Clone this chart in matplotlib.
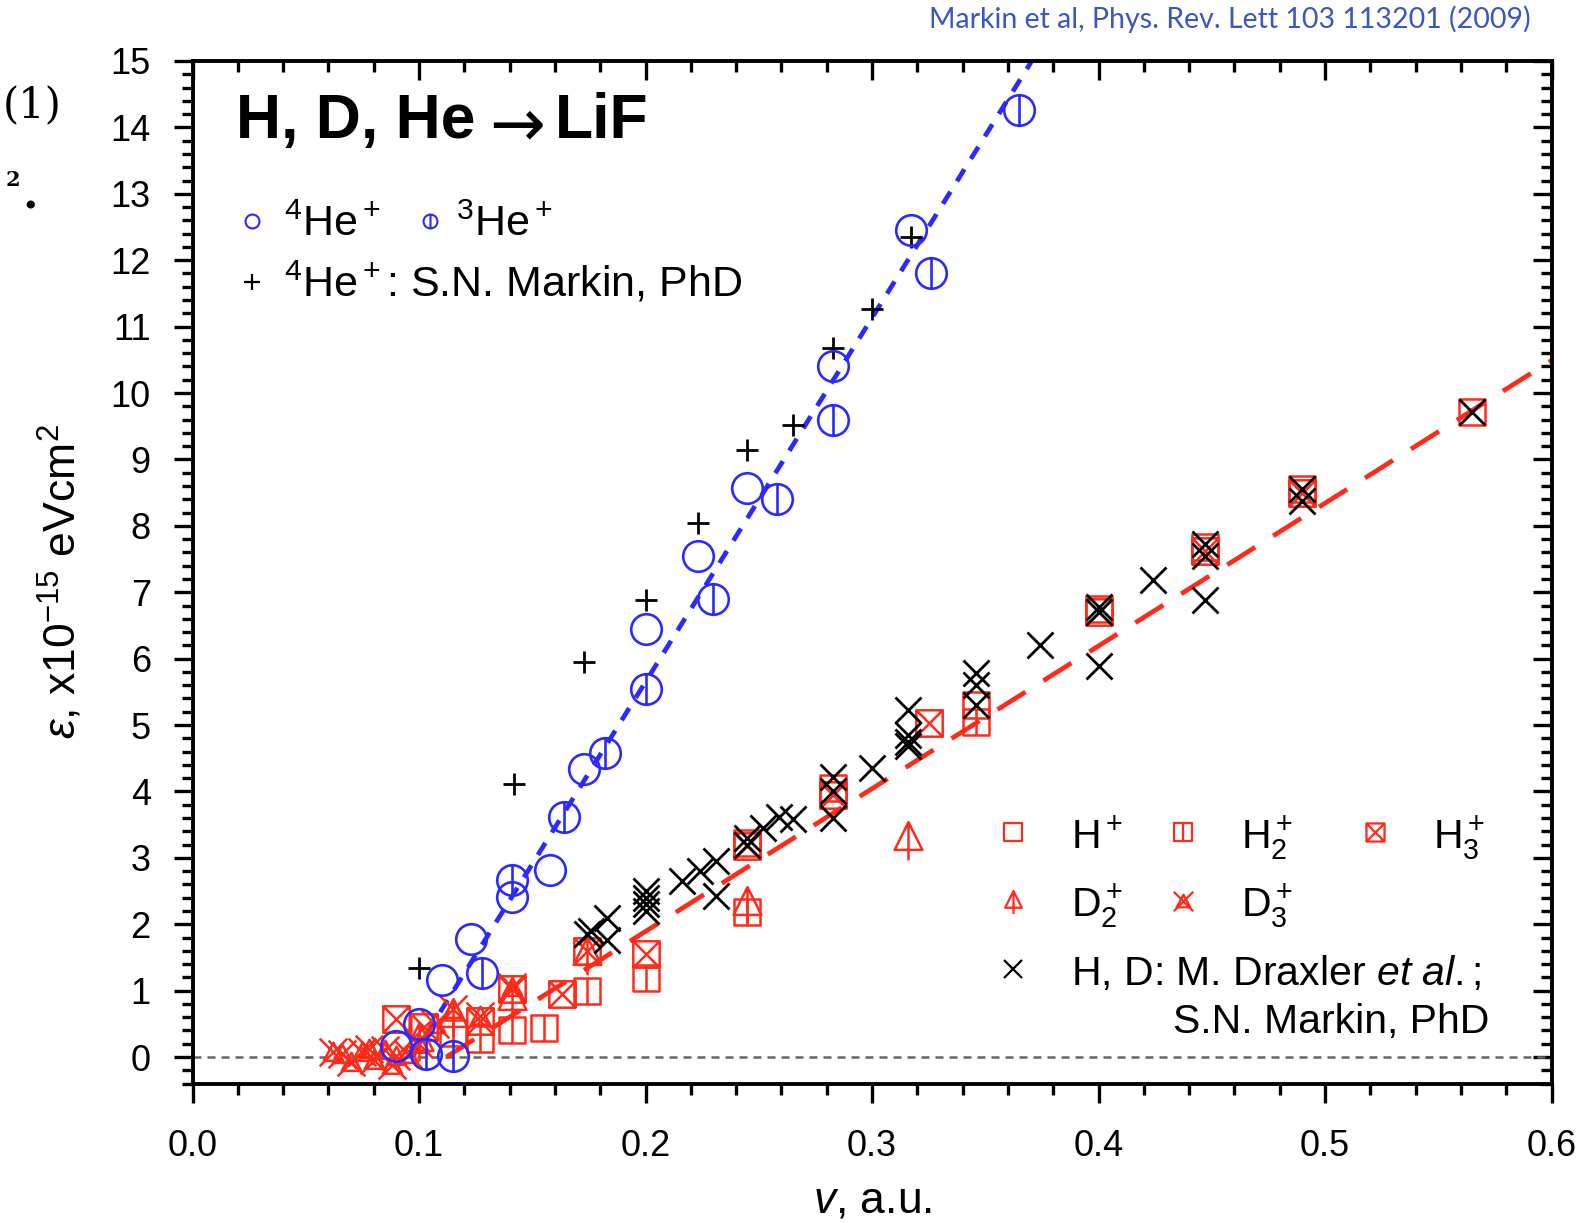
import matplotlib.pyplot as plt
from matplotlib.path import Path
from matplotlib.lines import Line2D
from matplotlib.ticker import MultipleLocator

plt.rcParams['font.family'] = ['Liberation Sans', 'DejaVu Sans']
plt.rcParams['mathtext.fontset'] = 'custom'
plt.rcParams['mathtext.rm'] = 'Liberation Sans'
plt.rcParams['mathtext.it'] = 'Liberation Sans:italic'
plt.rcParams['mathtext.bf'] = 'Liberation Sans:bold'

# --- data (v in a.u., stopping cross section in 1e-15 eV cm^2)
he4_v = [0.090, 0.100, 0.110, 0.123, 0.141, 0.158, 0.173, 0.200, 0.223, 0.245, 0.283, 0.317]
he4_e = [0.17, 0.50, 1.16, 1.78, 2.41, 2.82, 4.34, 6.44, 7.55, 8.57, 10.40, 12.46]

he3_v = [0.103, 0.115, 0.128, 0.141, 0.164, 0.182, 0.200, 0.230, 0.258, 0.283, 0.326, 0.365]
he3_e = [0.05, 0.02, 1.26, 2.67, 3.61, 4.58, 5.54, 6.90, 8.41, 9.60, 11.80, 14.26]

markin_v = [0.100, 0.142, 0.173, 0.200, 0.223, 0.245, 0.265, 0.283, 0.300, 0.317]
markin_e = [1.34, 4.11, 5.95, 6.88, 8.04, 9.14, 9.52, 10.68, 11.27, 12.35]

h1_v = [0.565, 0.490, 0.447, 0.400, 0.346, 0.283, 0.245]
h1_e = [9.72, 8.55, 7.68, 6.75, 5.30, 4.05, 3.22]

h2_v = [0.346, 0.245, 0.200, 0.174, 0.155, 0.141, 0.127, 0.115]
h2_e = [5.05, 2.18, 1.19, 1.00, 0.44, 0.40, 0.27, 0.36]

h3_v = [0.490, 0.447, 0.400, 0.325, 0.283, 0.245, 0.200, 0.174, 0.163, 0.141, 0.127, 0.090, 0.102]
h3_e = [8.50, 7.62, 6.70, 5.03, 3.95, 3.18, 1.55, 1.60, 0.95, 1.02, 0.54, 0.57, 0.45]

d2_v = [0.316, 0.245, 0.174, 0.141, 0.115, 0.100]
d2_e = [3.28, 2.30, 1.55, 0.88, 0.62, 0.25]

d3_v = [0.141, 0.127, 0.115, 0.107, 0.100, 0.095, 0.090, 0.085, 0.080, 0.075, 0.070, 0.066, 0.062, 0.078, 0.088]
d3_e = [1.05, 0.62, 0.72, 0.50, 0.20, 0.05, 0.02, 0.10, -0.05, 0.08, -0.08, 0.05, 0.08, 0.12, -0.12]

draxler_v = [0.565, 0.490, 0.490, 0.447, 0.447, 0.447, 0.424, 0.400, 0.400, 0.400, 0.374,
             0.346, 0.346, 0.346, 0.316, 0.316, 0.316, 0.316, 0.300, 0.283, 0.283, 0.283,
             0.265, 0.259, 0.252, 0.245, 0.245, 0.231, 0.231, 0.224, 0.216, 0.200, 0.200,
             0.200, 0.200, 0.183, 0.183, 0.176, 0.174]
draxler_e = [9.72, 8.55, 8.38, 7.72, 7.55, 6.88, 7.19, 6.78, 6.70, 5.89, 6.20,
             5.78, 5.60, 5.30, 5.22, 4.85, 4.75, 4.68, 4.36, 4.22, 4.00, 3.60,
             3.58, 3.62, 3.45, 3.30, 3.20, 2.95, 2.42, 2.80, 2.65, 2.50, 2.40,
             2.30, 2.20, 2.10, 1.77, 1.90, 1.85]

# dashed guide lines
he_fit_v = [0.097, 0.376]
he_fit_e = [0.0, 15.3]
h_fit_v = [0.112, 0.600]
h_fit_e = [0.0, 10.49]

# --- custom markers
M, L, C = Path.MOVETO, Path.LINETO, Path.CLOSEPOLY
seg = lambda a, b: Path([a, b], [M, L])
square = Path([(-1, -1), (1, -1), (1, 1), (-1, 1), (-1, -1)], [M, L, L, L, C])
circ_bar = Path.make_compound_path(Path.unit_circle(), seg((0, -1), (0, 1)))
sq_bar = Path.make_compound_path(square, seg((0, -1), (0, 1)))
sq_x = Path.make_compound_path(square, seg((-1, -1), (1, 1)), seg((-1, 1), (1, -1)))
tri_bar = Path.make_compound_path(
    Path([(-0.8, -0.6), (0.8, -0.6), (0, 1), (-0.8, -0.6)], [M, L, L, C]),
    seg((0, 1), (0, -1.2)))
x_tri = Path.make_compound_path(
    seg((-1, -1), (1, 1)), seg((-1, 1), (1, -1)),
    Path([(-0.7, -0.6), (0.7, -0.6), (0, 0.7), (-0.7, -0.6)], [M, L, L, C]))

W, H = 1588, 1223
fig = plt.figure(figsize=(W / 100, H / 100), dpi=100)
ax = fig.add_axes([192.5 / W, 1 - 1083.6 / H, 1359 / W, 1022.6 / H])

red = '#ff2a1a'
blue = '#2a2aff'

ax.axhline(0, color='#666666', lw=1.8, linestyle=(0, (3.2, 2.4)), zorder=1)
ax.plot(h_fit_v, h_fit_e, color=red, lw=3.4, linestyle=(0, (7, 4.5)), zorder=2)
ax.plot(he_fit_v, he_fit_e, color=blue, lw=3.4, linestyle=(0, (3, 2.6)), zorder=2)

red_kw = dict(linestyle='none', mfc='none', mec=red, mew=1.8, zorder=3)
ax.plot(h1_v, h1_e, marker=square, ms=19, **red_kw)
ax.plot(h2_v, h2_e, marker=sq_bar, ms=19, **red_kw)
ax.plot(h3_v, h3_e, marker=sq_x, ms=19, **red_kw)
ax.plot(d2_v, d2_e, marker=tri_bar, ms=30, **red_kw)
ax.plot(d3_v, d3_e, marker=x_tri, ms=20, **red_kw)

ax.plot(draxler_v, draxler_e, linestyle='none', marker='x', ms=19, mew=2.0, color='black', zorder=4)
ax.plot(markin_v, markin_e, linestyle='none', marker='+', ms=16, mew=2.0, color='black', zorder=4)

blue_kw = dict(linestyle='none', mfc='none', mec=blue, mew=1.9, ms=22, zorder=5)
ax.plot(he4_v, he4_e, marker='o', **blue_kw)
ax.plot(he3_v, he3_e, marker=circ_bar, **blue_kw)

ax.set_xlim(0, 0.6)
ax.set_ylim(-0.4, 15)
ax.xaxis.set_major_locator(MultipleLocator(0.1))
ax.xaxis.set_minor_locator(MultipleLocator(0.02))
ax.yaxis.set_major_locator(MultipleLocator(1))
ax.yaxis.set_minor_locator(MultipleLocator(0.2))
ax.set_xticklabels([f'{t:.1f}' for t in ax.get_xticks()])

for s in ax.spines.values():
    s.set_linewidth(2.8)
ax.tick_params(which='both', direction='out', width=2.4, top=False, right=False, labelsize=26)
ax.tick_params(which='major', length=14)
ax.tick_params(which='minor', length=8)
ax.tick_params(axis='x', pad=19)
ax.tick_params(axis='y', pad=16)

top = ax.secondary_xaxis('top')
top.xaxis.set_major_locator(MultipleLocator(0.1))
top.xaxis.set_minor_locator(MultipleLocator(0.02))
top.tick_params(which='both', direction='in', width=2.4, labeltop=False)
top.tick_params(which='major', length=14)
top.tick_params(which='minor', length=8)
right = ax.secondary_yaxis('right')
right.yaxis.set_major_locator(MultipleLocator(1))
right.yaxis.set_minor_locator(MultipleLocator(0.2))
right.tick_params(which='both', direction='in', width=2.4, labelright=False)
right.tick_params(which='major', length=14)
right.tick_params(which='minor', length=8)


def ftext(px, py, s, **kw):
    return fig.text(px / W, 1 - py / H, s, **kw)


def key(px, py, **kw):
    fig.add_artist(Line2D([px / W], [1 - py / H], transform=fig.transFigure,
                          linestyle='none', mfc='none', **kw))


# axis labels
ftext(873, 1201, r'$\it{v}$, a.u.', fontsize=32, ha='center', va='center')
ftext(61, 582, r'$\it{\varepsilon}$, x10$^{\mathregular{-15}}$ eVcm$^{\mathregular{2}}$',
      fontsize=32, rotation=90, ha='center', va='center')

# title inside the axes
ftext(236, 138, 'H, D, He', fontsize=45, fontweight='bold', va='baseline')
ftext(517, 126, '\u2192', fontsize=48, family='DejaVu Sans', ha='center', va='center')
ftext(555, 138, 'LiF', fontsize=45, fontweight='bold', va='baseline')

# upper-left key
key(252, 221, marker='o', ms=10, mec=blue, mew=1.5)
ftext(284, 236, r'$\mathregular{^4He^+}$', fontsize=31, va='baseline')
key(430, 221, marker=circ_bar, ms=10, mec=blue, mew=1.5)
ftext(456, 236, r'$\mathregular{^3He^+}$', fontsize=31, va='baseline')
key(252, 282, marker='+', ms=12, color='black', mew=1.6)
ftext(284, 296, r'$\mathregular{^4He^+}$: S.N. Markin, PhD', fontsize=31, va='baseline')

# lower-right key
key(1013, 832, marker=square, ms=13, mec=red, mew=1.6)
ftext(1071, 849, r'$\mathregular{H^+}$', fontsize=29.5, va='baseline')
key(1183, 832, marker=sq_bar, ms=13, mec=red, mew=1.6)
ftext(1241, 849, r'$\mathregular{H_2^+}$', fontsize=29.5, va='baseline')
key(1375, 832, marker=sq_x, ms=13, mec=red, mew=1.6)
ftext(1433, 849, r'$\mathregular{H_3^+}$', fontsize=29.5, va='baseline')
key(1013, 901, marker=tri_bar, ms=18, mec=red, mew=1.6)
ftext(1071, 917, r'$\mathregular{D_2^+}$', fontsize=29.5, va='baseline')
key(1183, 901, marker=x_tri, ms=14, mec=red, mew=1.6)
ftext(1241, 917, r'$\mathregular{D_3^+}$', fontsize=29.5, va='baseline')
key(1013, 969, marker='x', ms=13, color='black', mew=1.6)
ftext(1071, 985, r'H, D: M. Draxler $\it{et\ al.}$;', fontsize=29.5, va='baseline')
ftext(1173, 1033, 'S.N. Markin, PhD', fontsize=29.5, va='baseline')

# citation and page leftovers
ftext(1531, 19, 'Markin et al, Phys. Rev. Lett 103 113201 (2009)', fontsize=20.5,
      family='Lato', color='#3857c4', ha='right', va='center')
ftext(3, 106, '(1)', fontsize=30, family='DejaVu Serif', va='center')
ftext(6, 180, '2', fontsize=15, family='DejaVu Serif', fontweight='bold', va='center')
ftext(22, 196, '.', fontsize=32, family='DejaVu Serif', fontweight='bold', va='center')

fig.savefig('out.png', dpi=100)
